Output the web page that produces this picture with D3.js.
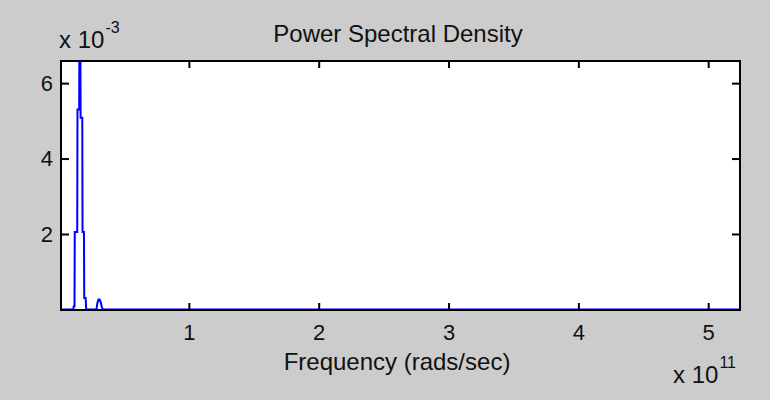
<!DOCTYPE html>
<html>
<head>
<meta charset="utf-8">
<script src="https://cdn.jsdelivr.net/npm/d3@7"></script>
<style>
  html, body { margin: 0; padding: 0; background: #cccccc; }
  svg { display: block; }
  text { font-family: "Liberation Sans", Arial, sans-serif; fill: #111; }
</style>
</head>
<body>
<svg id="chart" width="770" height="400"></svg>
<script>
// Frequency samples in units of 1e11 rad/s
const freq = [0.015, 0.109, 0.113, 0.119, 0.121, 0.126, 0.140, 0.142, 0.155, 0.158, 0.163, 0.166,
              0.179, 0.181, 0.192, 0.194, 0.205, 0.209, 0.288, 0.296, 0.304, 0.312, 0.320, 0.330, 0.338, 5.245];
// Power spectral density in units of 1e-3
const psd = [0, 0, 0.08, 0.08, 2.05, 2.05, 2.05, 5.3, 5.3, 8.5, 8.5, 5.08,
             5.08, 2.05, 2.05, 0.3, 0.3, 0, 0, 0.18, 0.26, 0.26, 0.2, 0.05, 0, 0];

const xTicks = [1, 2, 3, 4, 5];
const yTicks = [2, 4, 6];
const titleText = "Power Spectral Density";
const xLabelText = "Frequency (rads/sec)";
const xExponent = "11";
const yExponent = "-3";

const svg = d3.select("#chart");
const plot = { left: 61, right: 740, top: 61, bottom: 310 };

const x = d3.scaleLinear().domain([0.015, 5.245]).range([plot.left, plot.right]);
const y = d3.scaleLinear().domain([0, 6.6]).range([309.4, 60.5]);

// white axes background
svg.append("rect")
  .attr("x", plot.left).attr("y", plot.top)
  .attr("width", plot.right - plot.left).attr("height", plot.bottom - plot.top)
  .attr("fill", "#ffffff");

svg.append("defs").append("clipPath").attr("id", "clip")
  .append("rect")
  .attr("x", plot.left).attr("y", plot.top)
  .attr("width", plot.right - plot.left).attr("height", plot.bottom - plot.top);

const points = freq.map((f, i) => [f, psd[i]]);
const line = d3.line().x(d => x(d[0])).y(d => y(d[1]));

svg.append("path")
  .datum(points)
  .attr("clip-path", "url(#clip)")
  .attr("d", line)
  .attr("fill", "none")
  .attr("stroke", "#0000ff")
  .attr("stroke-width", 2)
  .attr("stroke-linejoin", "miter");

// axes: ticks point inward, labels outside
const xAxisBottom = d3.axisBottom(x).tickValues(xTicks).tickSize(-7).tickPadding(14).tickFormat(d3.format("d"));
const xAxisTop = d3.axisTop(x).tickValues(xTicks).tickSize(-7).tickFormat("");
const yAxisLeft = d3.axisLeft(y).tickValues(yTicks).tickSize(-8).tickPadding(8).tickFormat(d3.format("d"));
const yAxisRight = d3.axisRight(y).tickValues(yTicks).tickSize(-8).tickFormat("");

function styleAxis(g) {
  g.select(".domain").remove();
  g.selectAll(".tick line").attr("stroke", "#000").attr("stroke-width", 2);
  g.selectAll(".tick text").attr("font-size", 22).attr("fill", "#111")
    .style("font-family", "'Liberation Sans', Arial, sans-serif");
}

svg.append("g").attr("transform", `translate(0,${plot.bottom})`).call(xAxisBottom).call(styleAxis);
svg.append("g").attr("transform", `translate(0,${plot.top})`).call(xAxisTop).call(styleAxis);
svg.append("g").attr("transform", `translate(${plot.left},0)`).call(yAxisLeft).call(styleAxis);
svg.append("g").attr("transform", `translate(${plot.right},0)`).call(yAxisRight).call(styleAxis);

// axes box
svg.append("rect")
  .attr("x", plot.left).attr("y", plot.top)
  .attr("width", plot.right - plot.left).attr("height", plot.bottom - plot.top)
  .attr("fill", "none").attr("stroke", "#000").attr("stroke-width", 2);

// title and axis label
svg.append("text")
  .attr("x", 398).attr("y", 42)
  .attr("text-anchor", "middle").attr("font-size", 24)
  .text(titleText);

svg.append("text")
  .attr("x", 397).attr("y", 370)
  .attr("text-anchor", "middle").attr("font-size", 24)
  .text(xLabelText);

// exponent annotations
function exponentLabel(xPos, yPos, exp) {
  const t = svg.append("text").attr("x", xPos).attr("y", yPos).attr("font-size", 24);
  t.append("tspan").text("x 10");
  t.append("tspan").attr("font-size", 16).attr("dx", 1).attr("dy", -15).text(exp);
}
exponentLabel(59, 48, yExponent);
exponentLabel(673, 383, xExponent);
</script>
</body>
</html>
